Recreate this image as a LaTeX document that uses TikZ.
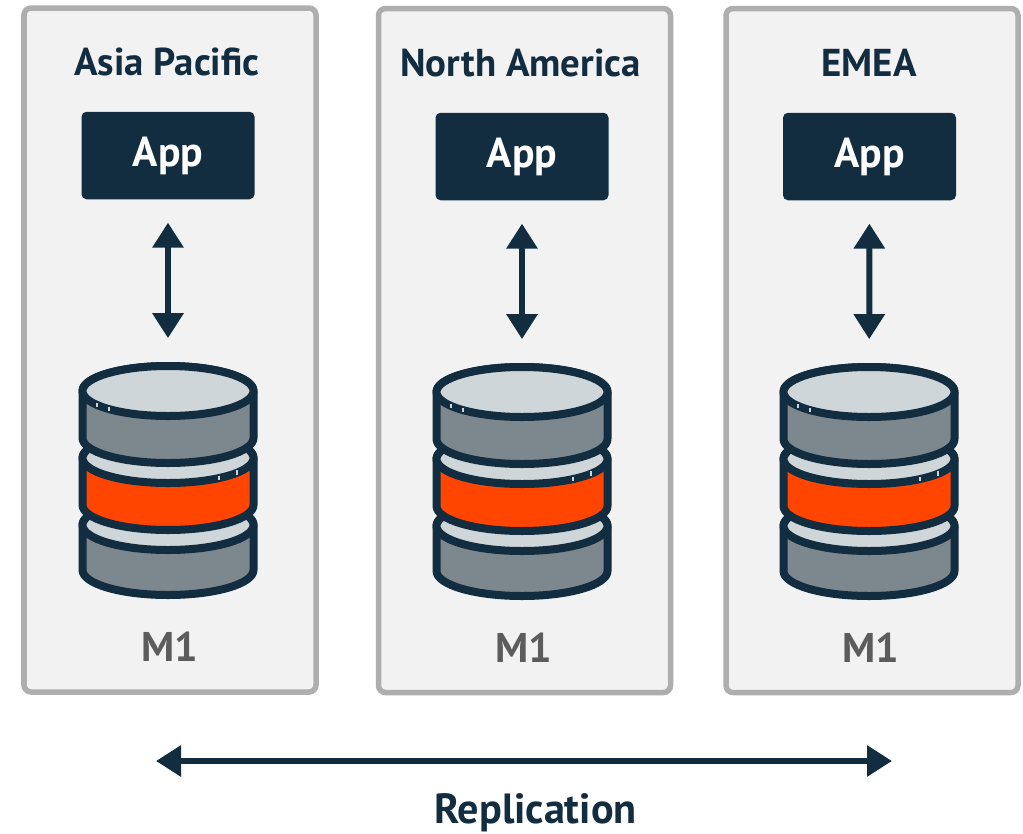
\documentclass[tikz,border=0pt]{standalone}
\usepackage{fontspec}
\setmainfont{PT Sans}
\usetikzlibrary{arrows.meta}
\definecolor{navy}{HTML}{122C40}
\definecolor{panelfill}{HTML}{F2F2F2}
\definecolor{panelline}{HTML}{AEAEAE}
\definecolor{disclight}{HTML}{CFD6DA}
\definecolor{discdark}{HTML}{7D878E}
\definecolor{discred}{HTML}{FF4500}
\definecolor{labelgrey}{HTML}{5C5C5C}
\tikzset{
  panel/.style={draw=panelline, fill=panelfill, line width=0.11cm, rounded corners=0.14cm,
    minimum width=5.84cm, minimum height=13.68cm, inner sep=0pt},
  title/.style={text=navy, font=\bfseries\fontsize{22.1}{26}\selectfont, inner sep=0pt},
  bigtitle/.style={text=navy, font=\bfseries\fontsize{24}{28}\selectfont, inner sep=0pt},
  app/.style={fill=navy, text=white, rounded corners=0.1cm, minimum width=3.46cm,
    minimum height=1.75cm, inner sep=0pt, font=\bfseries\fontsize{23.8}{28}\selectfont},
  dbbox/.style={minimum width=3.56cm, minimum height=4.7cm, inner sep=0pt},
  mlabel/.style={text=labelgrey, font=\bfseries\fontsize{23.6}{28}\selectfont, inner sep=0pt},
  link/.style={navy, line width=0.12cm, {Triangle[length=0.5cm,width=0.6cm]}-{Triangle[length=0.5cm,width=0.6cm]}},
  disc/.style={draw=navy, line width=0.16cm, line join=round},
  nick/.style={disclight, line width=0.05cm},
}
% one disc: fill, top y, bottom y (relative to the stack centre)
\newcommand{\dbdisc}[3]{
  \draw [disc, fill=#1] (-1.71,#2) -- (-1.71,#3) arc [start angle=180, end angle=360, x radius=1.71, y radius=0.5]
    -- (1.71,#2) arc [start angle=0, end angle=180, x radius=1.71, y radius=0.5] -- cycle;
  \draw [disc, fill=disclight] (0,#2) ellipse [x radius=1.71, y radius=0.5];
}
\newcommand{\dbstack}[1]{
  \begin{scope}[shift={(#1)}]
    \dbdisc{discdark}{-0.88}{-1.78}
    \dbdisc{discred}{0.46}{-0.48}
    \dbdisc{discdark}{1.80}{0.86}
    \draw [nick] (-1.42,1.57) -- (-1.42,1.48);
    \draw [nick] (-1.18,1.49) -- (-1.18,1.40);
    \draw [nick] (1.02,0.11) -- (1.02,0.02);
    \draw [nick] (1.38,0.22) -- (1.38,0.13);
  \end{scope}
}
\begin{document}
\begin{tikzpicture}
	\useasboundingbox (0,0) rectangle (20.46,-16.68);
	\node (p0) [panel] at (3.40cm, -7.00cm) {};
	\node (p1) [panel] at (10.49cm, -7.01cm) {};
	\node (p2) [panel] at (17.44cm, -7.01cm) {};
	\node (t0) [title] at (3.34cm, -1.24cm) {Asia Pacific};
	\node (t1) [title] at (10.41cm, -1.26cm) {North America};
	\node (t2) [title] at (17.38cm, -1.26cm) {EMEA};
	\node (app0) [app] at (3.36cm, -3.11cm) {App};
	\node (app1) [app] at (10.44cm, -3.13cm) {App};
	\node (app2) [app] at (17.39cm, -3.13cm) {App};
	\node (db0) [dbbox] at (3.36cm, -9.62cm) {};
	\node (db1) [dbbox] at (10.44cm, -9.64cm) {};
	\node (db2) [dbbox] at (17.38cm, -9.64cm) {};
	\dbstack{db0}
	\dbstack{db1}
	\dbstack{db2}
	\node (m0) [mlabel] at (3.39cm, -12.94cm) {M1};
	\node (m1) [mlabel] at (10.48cm, -12.96cm) {M1};
	\node (m2) [mlabel] at (17.42cm, -12.96cm) {M1};
	\coordinate (left) at (3.12cm, -15.22cm);
	\coordinate (right) at (17.84cm, -15.22cm);
	\node (rep) [bigtitle] at (10.71cm, -16.25cm) {Replication};
	\draw (app0) edge [link, shorten <=0.46cm, shorten >=0.5cm] (db0);
	\draw (app1) edge [link, shorten <=0.46cm, shorten >=0.5cm] (db1);
	\draw (app2) edge [link, shorten <=0.46cm, shorten >=0.5cm] (db2);
	\draw (left) edge [link] (right);
\end{tikzpicture}
\end{document}
